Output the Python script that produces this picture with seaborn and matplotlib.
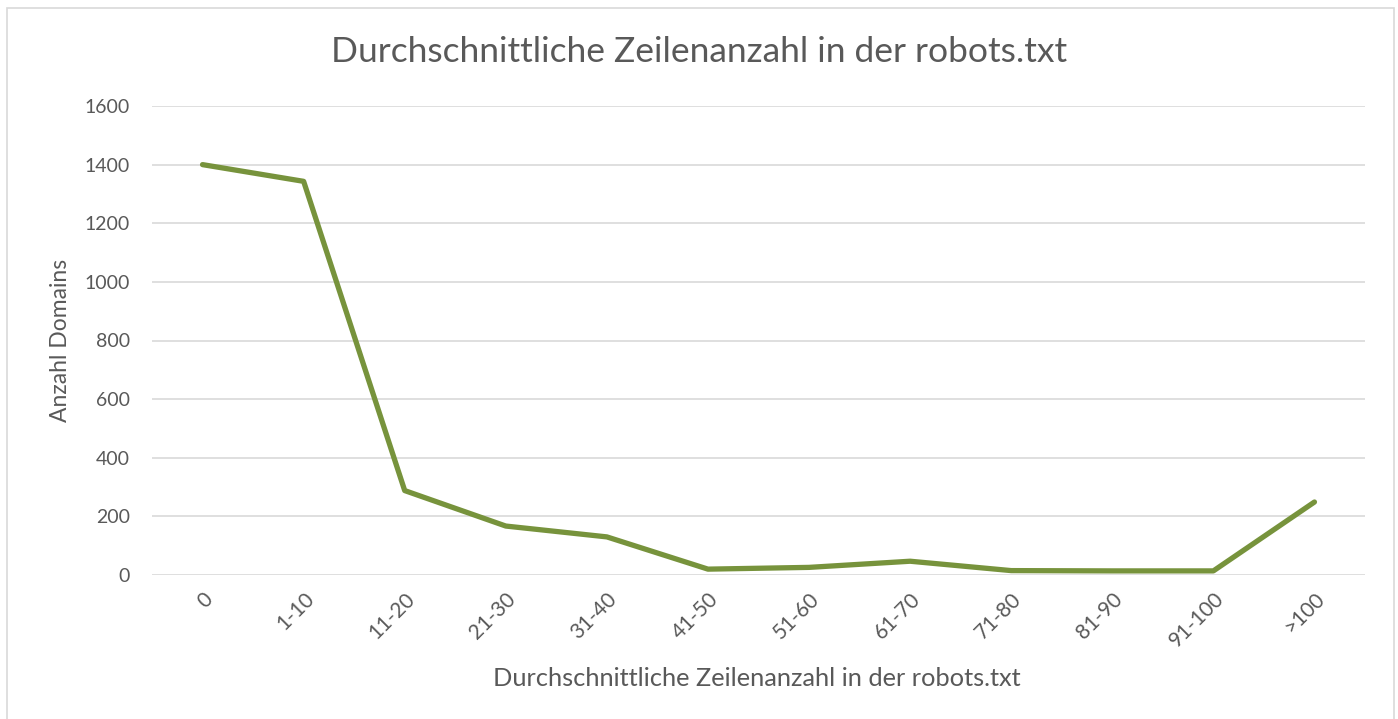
import numpy as np
import pandas as pd
import seaborn as sns
import matplotlib.pyplot as plt
from matplotlib.patches import Rectangle

categories = ['0', '1-10', '11-20', '21-30', '31-40', '41-50', '51-60',
              '61-70', '71-80', '81-90', '91-100', '>100']
domains = [1400, 1343, 288, 167, 130, 20, 26, 47, 15, 14, 14, 249]
yticks = [0, 200, 400, 600, 800, 1000, 1200, 1400, 1600]

df = pd.DataFrame({'bucket': categories, 'domains': domains})

sns.set_theme(style='white')
plt.rcParams['font.family'] = ['Lato', 'DejaVu Sans']
grey = '#595959'

W, H = 1398, 719
fig = plt.figure(figsize=(W / 100, H / 100), dpi=100)
ax = fig.add_axes([152 / W, 1 - 575 / H, (1365 - 152) / W, (575 - 106) / H])

sns.lineplot(data=df, x='bucket', y='domains', sort=False, ax=ax,
             color='#77933C', linewidth=3.8, solid_capstyle='round')

ax.set_xlim(-0.5, len(categories) - 0.5)
ax.set_ylim(0, 1600)
ax.set_yticks(yticks)
ax.set_yticklabels([str(v) for v in yticks], fontsize=14, color=grey)
ax.set_xticks(range(len(categories)))
ax.set_xticklabels(categories, rotation=45, ha='right', rotation_mode='anchor',
                   fontsize=15, color=grey)
ax.tick_params(axis='both', length=0)
ax.tick_params(axis='y', pad=16)
ax.tick_params(axis='x', pad=10)
ax.grid(axis='y', color='#d9d9d9', linewidth=1.2)
ax.set_axisbelow(True)
for s in ax.spines.values():
    s.set_visible(False)

ax.set_ylabel('Anzahl Domains', fontsize=16.5, color=grey, labelpad=10)
ax.set_xlabel('')
fig.text(757 / W, 1 - 679 / H, 'Durchschnittliche Zeilenanzahl in der robots.txt',
         ha='center', va='center', fontsize=18.3, color=grey)
fig.text(699 / W, 1 - 52 / H, 'Durchschnittliche Zeilenanzahl in der robots.txt',
         ha='center', va='center', fontsize=25.5, color=grey)

fig.patches.append(Rectangle((7 / W, -0.05), (1394 - 7) / W, 1.05 - 8 / H,
                             transform=fig.transFigure, fill=False,
                             edgecolor='#d9d9d9', linewidth=1.2))

fig.savefig('out.png', dpi=100)
